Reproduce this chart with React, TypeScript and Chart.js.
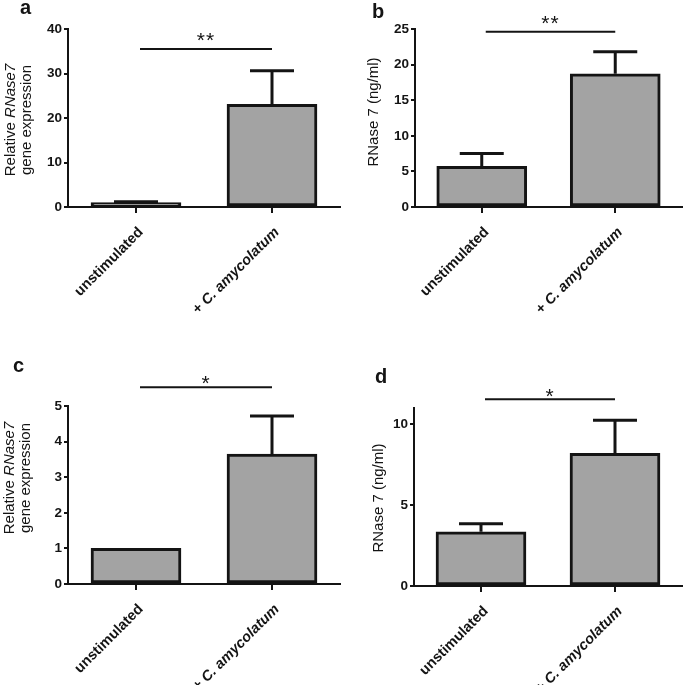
import React, { useEffect, useRef } from 'react';
import { Chart, registerables } from 'chart.js';

Chart.register(...registerables);

// ---------- data ----------
const categories = ['unstimulated', '+ C. amycolatum'];

const aMeans = [1.0, 23.1];
const aErrors = [0.2, 7.5];
const aTicks = [0, 10, 20, 30, 40];

const bMeans = [5.7, 18.7];
const bErrors = [1.8, 3.1];
const bTicks = [0, 5, 10, 15, 20, 25];

const cMeans = [1.0, 3.65];
const cErrors = [0, 1.07];
const cTicks = [0, 1, 2, 3, 4, 5];

const dMeans = [3.35, 8.2];
const dErrors = [0.5, 2.05];
const dTicks = [0, 5, 10];

const significance = ['**', '**', '*', '*'];
const panelLetters = ['a', 'b', 'c', 'd'];
const yTitleExpression = ['Relative RNase7', 'gene expression'];
const yTitleProtein = ['RNase 7 (ng/ml)'];
const italicTerms = ['C. amycolatum', 'RNase7'];

// ---------- styling / layout ----------
const FONT = "'Liberation Sans', Arial, Helvetica, sans-serif";
const INK = '#141414';
const BAR_FILL = '#a3a3a3';

type Seg = { text: string; italic: boolean };

function splitItalic(s: string): Seg[] {
  for (const term of italicTerms) {
    const i = s.indexOf(term);
    if (i >= 0) {
      const out: Seg[] = [];
      if (i > 0) out.push({ text: s.slice(0, i), italic: false });
      out.push({ text: term, italic: true });
      if (i + term.length < s.length) out.push({ text: s.slice(i + term.length), italic: false });
      return out;
    }
  }
  return [{ text: s, italic: false }];
}

function drawSegs(ctx: CanvasRenderingContext2D, segs: Seg[], weight: string, size: number, align: 'left' | 'right' | 'center') {
  const fontFor = (it: boolean) => `${it ? 'italic ' : ''}${weight} ${size}px ${FONT}`;
  let total = 0;
  const widths = segs.map((s) => {
    ctx.font = fontFor(s.italic);
    const w = ctx.measureText(s.text).width;
    total += w;
    return w;
  });
  let x = align === 'left' ? 0 : align === 'right' ? -total : -total / 2;
  ctx.textAlign = 'left';
  segs.forEach((s, i) => {
    ctx.font = fontFor(s.italic);
    ctx.fillText(s.text, x, 0);
    x += widths[i];
  });
}

type PanelCfg = {
  left: number; top: number; w: number; h: number;
  padTop: number; padRight: number; yWidth: number; xHeight: number;
  means: number[]; errors: number[]; ticks: number[]; yMax: number;
  title: string[]; titleX: number[]; titleY: number;
  letter: string; letterX: number; letterY: number;
  sig: string; sigLevel: number; sigGap: number;
};

const panels: PanelCfg[] = [
  {
    left: 0, top: 0, w: 342, h: 340, padTop: 29, padRight: 2, yWidth: 68, xHeight: 133,
    means: aMeans, errors: aErrors, ticks: aTicks, yMax: 40,
    title: yTitleExpression, titleX: [11, 27], titleY: 120,
    letter: panelLetters[0], letterX: 20, letterY: 14,
    sig: significance[0], sigLevel: 35.5, sigGap: 14,
  },
  {
    left: 342, top: 0, w: 343, h: 340, padTop: 29, padRight: 3, yWidth: 73, xHeight: 133,
    means: bMeans, errors: bErrors, ticks: bTicks, yMax: 25,
    title: yTitleProtein, titleX: [32], titleY: 112,
    letter: panelLetters[1], letterX: 30, letterY: 18,
    sig: significance[1], sigLevel: 24.6, sigGap: 14,
  },
  {
    left: 0, top: 340, w: 342, h: 345, padTop: 66, padRight: 2, yWidth: 68, xHeight: 101,
    means: cMeans, errors: cErrors, ticks: cTicks, yMax: 5,
    title: yTitleExpression, titleX: [10, 26], titleY: 138,
    letter: panelLetters[2], letterX: 13, letterY: 32,
    sig: significance[2], sigLevel: 5.53, sigGap: 9.5,
  },
  {
    left: 342, top: 340, w: 343, h: 345, padTop: 68, padRight: 3, yWidth: 72, xHeight: 99,
    means: dMeans, errors: dErrors, ticks: dTicks, yMax: 11,
    title: yTitleProtein, titleX: [37], titleY: 158,
    letter: panelLetters[3], letterX: 33, letterY: 43,
    sig: significance[3], sigLevel: 11.54, sigGap: 8.6,
  },
];

function Panel({ cfg }: { cfg: PanelCfg }) {
  const ref = useRef<HTMLCanvasElement>(null);

  useEffect(() => {
    const canvas = ref.current;
    if (!canvas) return;

    const annotate = {
      id: 'annotate',
      afterDatasetsDraw(chart: any) {
        const ctx: CanvasRenderingContext2D = chart.ctx;
        const xs = chart.scales.x;
        const ys = chart.scales.y;
        const data = chart.data.datasets[0].data as number[];
        ctx.save();
        ctx.strokeStyle = INK;
        ctx.lineWidth = 3;
        ctx.lineCap = 'butt';
        data.forEach((v, i) => {
          const err = cfg.errors[i];
          if (!err) return;
          const cx = xs.getPixelForValue(i);
          const base = ys.getPixelForValue(v);
          const top = ys.getPixelForValue(v + err);
          ctx.beginPath();
          ctx.moveTo(cx, base);
          ctx.lineTo(cx, top);
          ctx.moveTo(cx - 22, top);
          ctx.lineTo(cx + 22, top);
          ctx.stroke();
        });
        ctx.restore();
      },
      afterDraw(chart: any) {
        const ctx: CanvasRenderingContext2D = chart.ctx;
        const xs = chart.scales.x;
        const ys = chart.scales.y;
        const area = chart.chartArea;
        ctx.save();
        ctx.fillStyle = INK;
        ctx.strokeStyle = INK;

        // x category labels, rotated 45°
        (chart.data.labels as string[]).forEach((lab, i) => {
          const cx = xs.getPixelForValue(i);
          ctx.save();
          ctx.translate(cx + 5, area.bottom + 23);
          ctx.rotate(-Math.PI / 4);
          ctx.textBaseline = 'middle';
          drawSegs(ctx, splitItalic(lab), 'bold', 14.5, 'right');
          ctx.restore();
        });

        // y-axis title
        cfg.title.forEach((line, li) => {
          ctx.save();
          ctx.translate(cfg.titleX[li], cfg.titleY);
          ctx.rotate(-Math.PI / 2);
          ctx.textBaseline = 'middle';
          drawSegs(ctx, splitItalic(line), 'normal', 15, 'center');
          ctx.restore();
        });

        // panel letter
        ctx.save();
        ctx.textBaseline = 'alphabetic';
        ctx.textAlign = 'left';
        ctx.font = `bold 20px ${FONT}`;
        ctx.fillText(cfg.letter, cfg.letterX, cfg.letterY);
        ctx.restore();

        // significance bar
        const x1 = xs.getPixelForValue(0) + 4;
        const x2 = xs.getPixelForValue(1);
        const yl = ys.getPixelForValue(cfg.sigLevel);
        ctx.lineWidth = 2;
        ctx.beginPath();
        ctx.moveTo(x1, yl);
        ctx.lineTo(x2, yl);
        ctx.stroke();
        const size = 21;
        ctx.font = `${size}px ${FONT}`;
        (ctx as any).letterSpacing = '1px';
        ctx.textAlign = 'center';
        ctx.textBaseline = 'alphabetic';
        ctx.fillText(cfg.sig, (x1 + x2) / 2, yl - cfg.sigGap + 0.58 * size);
        ctx.restore();
      },
    };

    const chart = new Chart(canvas, {
      type: 'bar',
      data: {
        labels: categories,
        datasets: [
          {
            data: cfg.means,
            backgroundColor: BAR_FILL,
            borderColor: INK,
            borderWidth: 3,
            borderSkipped: false,
            barThickness: 90,
          },
        ],
      },
      options: {
        responsive: false,
        animation: false,
        devicePixelRatio: 1,
        layout: { padding: { left: 0, top: cfg.padTop, right: cfg.padRight, bottom: 0 } },
        plugins: { legend: { display: false }, tooltip: { enabled: false } },
        scales: {
          x: {
            offset: true,
            grid: { display: true, drawOnChartArea: false, drawTicks: true, tickLength: 6, offset: false, color: INK, lineWidth: 2 },
            border: { display: true, color: INK, width: 2 },
            ticks: { display: false },
            afterFit: (s: any) => { s.height = cfg.xHeight; },
          },
          y: {
            min: 0,
            max: cfg.yMax,
            grid: { display: true, drawOnChartArea: false, drawTicks: true, tickLength: 4, color: INK, lineWidth: 2 },
            border: { display: true, color: INK, width: 2 },
            ticks: { color: INK, padding: 2, font: { family: FONT, size: 13.5, weight: 'bold' } },
            afterBuildTicks: (s: any) => { s.ticks = cfg.ticks.map((v) => ({ value: v })); },
            afterFit: (s: any) => { s.width = cfg.yWidth; },
          },
        },
      },
      plugins: [annotate],
    } as any);

    return () => chart.destroy();
  }, [cfg]);

  return (
    <canvas
      ref={ref}
      width={cfg.w}
      height={cfg.h}
      style={{ position: 'absolute', left: cfg.left, top: cfg.top, width: cfg.w, height: cfg.h }}
    />
  );
}

export default function App() {
  return (
    <div style={{ position: 'absolute', left: 0, top: 0, width: 685, height: 685, background: '#fff' }}>
      {panels.map((p, i) => (
        <Panel key={i} cfg={p} />
      ))}
    </div>
  );
}
